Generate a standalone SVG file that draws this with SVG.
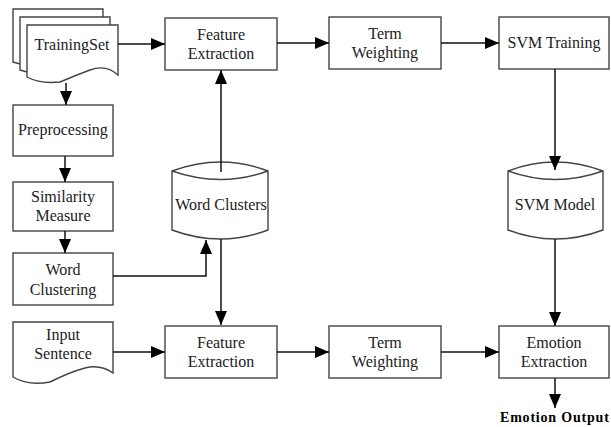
<svg xmlns="http://www.w3.org/2000/svg" width="611" height="427" viewBox="0 0 611 427" font-family="'Liberation Serif', serif">
<defs>
<marker id="ah" markerUnits="userSpaceOnUse" markerWidth="15" markerHeight="12" refX="14" refY="6" orient="auto">
<path d="M0,0 L14,6 L0,12 Z" fill="#000"/>
</marker>
<style>
.n{fill:#fff;stroke:#444;stroke-width:1.4}
.t{font-family:'Liberation Serif',serif;font-size:16px;fill:#222;text-anchor:middle}
.b{font-weight:bold;font-size:14px;letter-spacing:0.8px;text-anchor:start;fill:#000}
.c{fill:none;stroke:#111;stroke-width:1.5}
</style>
</defs>
<rect width="611" height="427" fill="#fff"/>
<g id="trainingset">
<path class="n" d="M13,9 H103 V60 Q90,52 75,60 T40,66 Q25,66 13,62 Z"/>
<path class="n" d="M20,17 H110 V68 Q97,60 82,68 T47,74 Q32,74 20,70 Z"/>
<path class="n" d="M27,25 H118 V75 Q106,64 90,70 T60,82 Q40,84 27,77 Z"/>
<text class="t" x="72" y="50">TrainingSet</text>
</g>
<g id="preprocessing">
<rect class="n" x="13" y="105" width="100" height="51"/>
<text class="t" x="63" y="135">Preprocessing</text>
</g>
<g id="similarity">
<rect class="n" x="13" y="182" width="100" height="49"/>
<text class="t" x="63" y="202">Similarity</text>
<text class="t" x="63" y="221">Measure</text>
</g>
<g id="wordclustering">
<rect class="n" x="13" y="253" width="100" height="52"/>
<text class="t" x="63" y="275">Word</text>
<text class="t" x="63" y="295">Clustering</text>
</g>
<g id="inputsentence">
<path class="n" d="M13,322 H113 V373 Q100,364 85,368 T50,382 Q28,386 13,377 Z"/>
<text class="t" x="63" y="340">Input</text>
<text class="t" x="63" y="359">Sentence</text>
</g>
<g id="fe1">
<rect class="n" x="165" y="18" width="112" height="52"/>
<text class="t" x="221" y="40">Feature</text>
<text class="t" x="221" y="59">Extraction</text>
</g>
<g id="tw1">
<rect class="n" x="329" y="17" width="112" height="52"/>
<text class="t" x="385" y="39">Term</text>
<text class="t" x="385" y="58">Weighting</text>
</g>
<g id="svmtraining">
<rect class="n" x="499" y="17" width="110" height="52"/>
<text class="t" x="554" y="48">SVM Training</text>
</g>
<g id="wordclusters">
<path class="n" d="M172,171 Q221,153 268,171 V230 Q221,248 172,230 Z"/>
<path class="n" fill="none" d="M172,171 Q221,188 268,171"/>
<text class="t" x="221" y="210">Word Clusters</text>
</g>
<g id="svmmodel">
<path class="n" d="M508,171 Q555,153 603,171 V230 Q555,248 508,230 Z"/>
<path class="n" fill="none" d="M508,171 Q555,188 603,171"/>
<text class="t" x="555" y="210">SVM Model</text>
</g>
<g id="fe2">
<rect class="n" x="165" y="326" width="112" height="52"/>
<text class="t" x="221" y="348">Feature</text>
<text class="t" x="221" y="367">Extraction</text>
</g>
<g id="tw2">
<rect class="n" x="329" y="326" width="112" height="52"/>
<text class="t" x="385" y="348">Term</text>
<text class="t" x="385" y="367">Weighting</text>
</g>
<g id="emotionextraction">
<rect class="n" x="499" y="326" width="110" height="52"/>
<text class="t" x="554" y="348">Emotion</text>
<text class="t" x="554" y="367">Extraction</text>
</g>
<g id="emotionoutput">
<text class="t b" x="500" y="422">Emotion Output</text>
</g>
<g id="connectors">
<path class="c" marker-end="url(#ah)" d="M118,44 H165"/>
<path class="c" marker-end="url(#ah)" d="M277,43 H329"/>
<path class="c" marker-end="url(#ah)" d="M441,43 H499"/>
<path class="c" marker-end="url(#ah)" d="M66,83 V105"/>
<path class="c" marker-end="url(#ah)" d="M65,156 V182"/>
<path class="c" marker-end="url(#ah)" d="M65,231 V253"/>
<path class="c" marker-end="url(#ah)" d="M221,172 V70"/>
<path class="c" marker-end="url(#ah)" d="M221,239 V325"/>
<path class="c" marker-end="url(#ah)" d="M113,276 H206 V240"/>
<path class="c" marker-end="url(#ah)" d="M555,69 V170"/>
<path class="c" marker-end="url(#ah)" d="M555,239 V326"/>
<path class="c" marker-end="url(#ah)" d="M555,378 V408"/>
<path class="c" marker-end="url(#ah)" d="M113,352 H165"/>
<path class="c" marker-end="url(#ah)" d="M277,352 H329"/>
<path class="c" marker-end="url(#ah)" d="M441,352 H499"/>
</g>
</svg>
